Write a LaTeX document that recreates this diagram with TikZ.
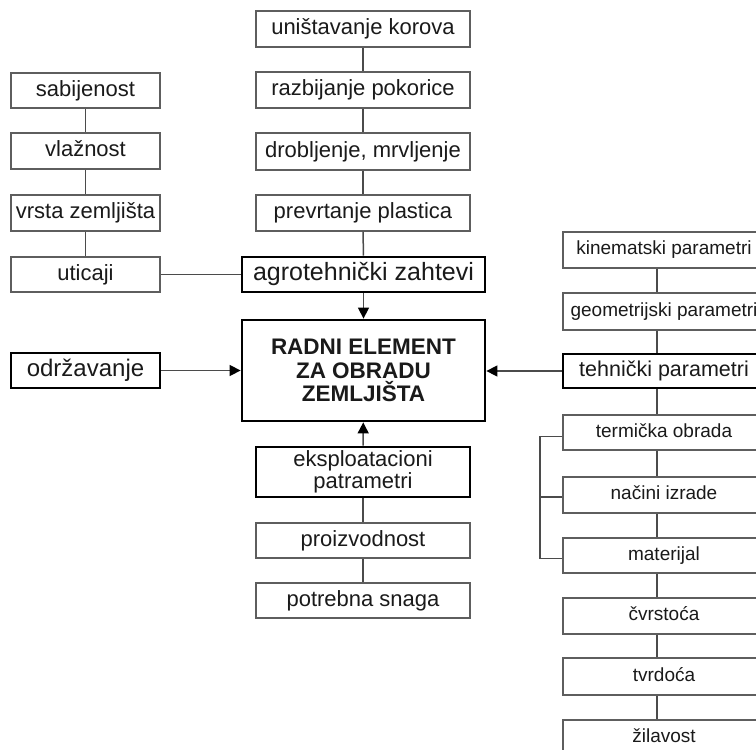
\documentclass[tikz,border=0pt]{standalone}
\usepackage{fontspec}
\setmainfont{Liberation Sans}
\usetikzlibrary{arrows.meta}
\definecolor{thinline}{HTML}{5E5E5E}
\definecolor{txt}{HTML}{1A1A1A}
\tikzset{
  thinbox/.style={draw=thinline, line width=1.4pt, fill=white, inner sep=0pt, text=txt,
    font=\fontsize{22}{26}\selectfont, align=center, text height=15pt, text depth=4pt},
  thickbox/.style={draw=black, line width=2.8pt, fill=white, inner sep=0pt, text=txt,
    font=\fontsize{22}{22}\selectfont, align=center},
  conn/.style={draw=thinline!80!black, line width=1.5pt},
  arr/.style={conn, -{Triangle[length=11pt,width=11pt,color=black]}},
}
\begin{document}
\begin{tikzpicture}[x=1pt,y=-1pt]
\useasboundingbox (0,0) rectangle (756,750);
\clip (0,0) rectangle (756,750);
\fill[white] (0,0) rectangle (756,750);
% left column
\node[thinbox, minimum width=149pt, minimum height=35pt] (sab) at (85.5,90.5) {sabijenost};
\node[thinbox, minimum width=149pt, minimum height=36pt] (vla) at (85.5,151) {vlažnost};
\node[thinbox, minimum width=149pt, minimum height=36pt] (vrs) at (85.5,213) {vrsta zemljišta};
\node[thinbox, minimum width=149pt, minimum height=35pt] (uti) at (85.5,274.5) {uticaji};
\node[thickbox, minimum width=149pt, minimum height=35pt, font=\fontsize{24}{26}\selectfont, text height=16pt, text depth=4.5pt] (odr) at (85.5,370.5) {održavanje};
% top column
\node[thinbox, minimum width=214pt, minimum height=36pt] (uni) at (363,29) {uništavanje korova};
\node[thinbox, minimum width=214pt, minimum height=36pt] (raz) at (363,90) {razbijanje pokorice};
\node[thinbox, minimum width=214pt, minimum height=37pt] (dro) at (363,151.5) {drobljenje, mrvljenje};
\node[thinbox, minimum width=214pt, minimum height=36pt] (pre) at (363,213) {prevrtanje plastica};
\node[thickbox, minimum width=243pt, minimum height=35pt, font=\fontsize{25}{27}\selectfont, text height=17pt, text depth=5pt] (agr) at (363.5,274.5) {agrotehnički zahtevi};
% main
\node[thickbox, minimum width=243pt, minimum height=101pt, font=\fontsize{22.5}{23.5}\selectfont\bfseries] (main) at (363.5,370.5) {RADNI ELEMENT\\ZA OBRADU\\ZEMLJIŠTA};
% bottom column
\node[thickbox, minimum width=214pt, minimum height=50pt] (eks) at (363,472) {eksploatacioni\\patrametri};
\node[thinbox, minimum width=214pt, minimum height=35pt] (pro) at (363,540.5) {proizvodnost};
\node[thinbox, minimum width=214pt, minimum height=35pt] (pot) at (363,600.5) {potrebna snaga};
% right column
\tikzset{rbox/.style={thinbox, minimum width=202pt, font=\fontsize{19}{22}\selectfont, text height=13pt, text depth=3.5pt}}
\node[rbox, minimum height=36pt] (kin) at (664,250) {kinematski parametri};
\node[rbox, minimum height=37pt] (geo) at (664,311.5) {geometrijski parametri};
\node[thickbox, minimum width=202pt, minimum height=34pt, font=\fontsize{21.5}{24}\selectfont, text height=15pt, text depth=4pt] (teh) at (664,371) {tehnički parametri};
\node[rbox, minimum height=35pt] (ter) at (664,432.5) {termička obrada};
\node[rbox, minimum height=36pt] (nac) at (664,495) {načini izrade};
\node[rbox, minimum height=35pt] (mat) at (664,555.5) {materijal};
\node[rbox, minimum height=36pt] (cvr) at (664,616) {čvrstoća};
\node[rbox, minimum height=37pt] (tvr) at (664,676.5) {tvrdoća};
\node[rbox, minimum height=36pt] (zil) at (664,738) {žilavost};
\coordinate (rc) at (657,0);
\coordinate (br) at (540,0);
% connectors left
\draw[conn] (sab) -- (vla);
\draw[conn] (vla) -- (vrs);
\draw[conn] (vrs) -- (uti);
\draw[conn] (uti) -- (agr);
% top
\draw[conn] (uni) -- (raz);
\draw[conn] (raz) -- (dro);
\draw[conn] (dro) -- (pre);
\draw[conn] (pre) -- (agr);
% arrows into main
\draw[arr] (agr) -- (main);
\draw[arr] (eks) -- (main);
\draw[arr] (odr.east) -- (main.west |- odr.east);
\draw[arr] (teh.west) -- (main.east |- teh.west);
% bottom
\draw[conn] (eks) -- (pro);
\draw[conn] (pro) -- (pot);
% right column
\draw[conn] (kin.south -| rc) -- (geo.north -| rc);
\draw[conn] (geo.south -| rc) -- (teh.north -| rc);
\draw[conn] (teh.south -| rc) -- (ter.north -| rc);
\draw[conn] (ter.south -| rc) -- (nac.north -| rc);
\draw[conn] (nac.south -| rc) -- (mat.north -| rc);
\draw[conn] (mat.south -| rc) -- (cvr.north -| rc);
\draw[conn] (cvr.south -| rc) -- (tvr.north -| rc);
\draw[conn] (tvr.south -| rc) -- (zil.north -| rc);
% bracket
\draw[conn] ([yshift=-4pt]ter.west) -| ([yshift=-3pt]mat.west -| br) -- ([yshift=-3pt]mat.west);
\draw[conn] ([yshift=-2pt]nac.west) -- ([yshift=-2pt]nac.west -| br);
\end{tikzpicture}
\end{document}
